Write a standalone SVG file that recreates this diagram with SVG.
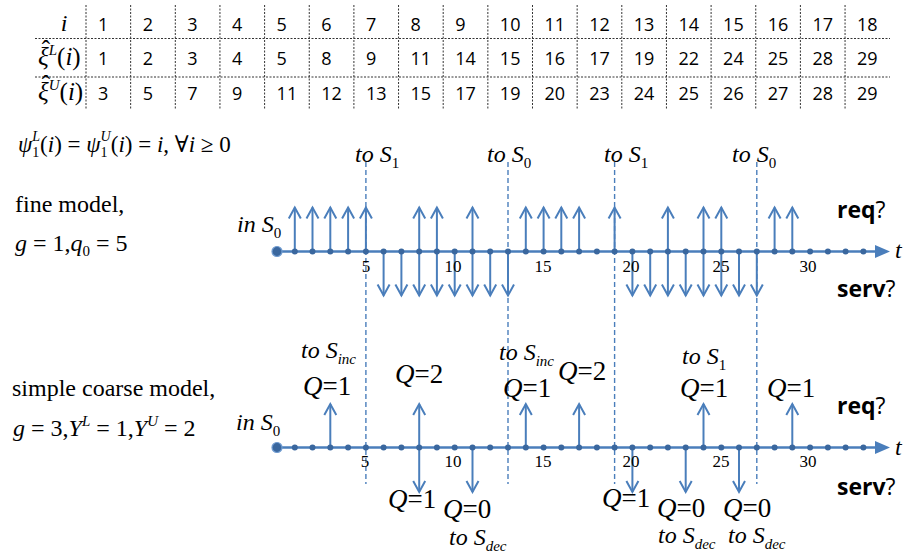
<svg xmlns="http://www.w3.org/2000/svg" width="905" height="559" viewBox="0 0 905 559">
<style>
.tm{font-family:"Liberation Serif","DejaVu Serif",serif;fill:#000}
.it{font-style:italic}
.num{font-family:"Open Sans","Noto Sans",sans-serif;font-size:18px;fill:#000}
.grid{stroke:#333;stroke-width:1;stroke-dasharray:2 1.5;fill:none}
.axis{stroke:#4a7ebb;stroke-width:2.5;fill:none}
.arr{stroke:#4a7ebb;stroke-width:2;fill:none;marker-end:url(#head)}
.dash{stroke:#4a7ebb;stroke-width:1.4;stroke-dasharray:5 3;fill:none}
.dot{fill:#3a679e}
.lab{font-family:"Open Sans","Noto Sans",sans-serif;font-size:23px;fill:#000}
.tick{font-family:"Liberation Serif",serif;font-size:17px;fill:#000;text-anchor:middle}
.q{font-size:27px}
.s{font-size:24px}
</style>
<defs>
<marker id="head" markerUnits="userSpaceOnUse" orient="auto" refX="0" refY="0" markerWidth="30" markerHeight="30" viewBox="-15 -15 30 30" overflow="visible">
<path d="M-11,-6 L0,0 L-11,6" fill="none" stroke="#4a7ebb" stroke-width="2"/>
</marker>
</defs>

<g id="table">
<g class="grid">
<line x1="35" y1="38.5" x2="890" y2="38.5"/>
<line x1="35" y1="77" x2="890" y2="77"/>
<line x1="86" y1="5" x2="86" y2="110"/>
<line x1="130.65" y1="5" x2="130.65" y2="110"/>
<line x1="175.3" y1="5" x2="175.3" y2="110"/>
<line x1="219.95" y1="5" x2="219.95" y2="110"/>
<line x1="264.6" y1="5" x2="264.6" y2="110"/>
<line x1="309.25" y1="5" x2="309.25" y2="110"/>
<line x1="353.9" y1="5" x2="353.9" y2="110"/>
<line x1="398.55" y1="5" x2="398.55" y2="110"/>
<line x1="443.2" y1="5" x2="443.2" y2="110"/>
<line x1="487.85" y1="5" x2="487.85" y2="110"/>
<line x1="532.5" y1="5" x2="532.5" y2="110"/>
<line x1="577.15" y1="5" x2="577.15" y2="110"/>
<line x1="621.8" y1="5" x2="621.8" y2="110"/>
<line x1="666.45" y1="5" x2="666.45" y2="110"/>
<line x1="711.1" y1="5" x2="711.1" y2="110"/>
<line x1="755.75" y1="5" x2="755.75" y2="110"/>
<line x1="800.4" y1="5" x2="800.4" y2="110"/>
<line x1="845.05" y1="5" x2="845.05" y2="110"/>
</g>
<text class="tm it" x="64" y="31" font-size="24" text-anchor="middle">i</text>
<text class="tm" x="33" y="65" font-size="25"><tspan dx="5" dy="-7">ˆ</tspan><tspan class="it" dx="-12" dy="7">ξ</tspan><tspan class="it" font-size="15" dy="-10">L</tspan><tspan dy="10">(</tspan><tspan class="it">i</tspan>)</text>
<text class="tm" x="33" y="100" font-size="25"><tspan dx="5" dy="-7">ˆ</tspan><tspan class="it" dx="-12" dy="7">ξ</tspan><tspan class="it" font-size="15" dy="-10">U</tspan><tspan dy="10">(</tspan><tspan class="it">i</tspan>)</text>
<g class="num">
<text y="31"><tspan x="98">1</tspan><tspan x="142.65">2</tspan><tspan x="187.3">3</tspan><tspan x="231.95">4</tspan><tspan x="276.6">5</tspan><tspan x="321.25">6</tspan><tspan x="365.9">7</tspan><tspan x="410.55">8</tspan><tspan x="455.2">9</tspan><tspan x="499.85">10</tspan><tspan x="544.5">11</tspan><tspan x="589.15">12</tspan><tspan x="633.8">13</tspan><tspan x="678.45">14</tspan><tspan x="723.1">15</tspan><tspan x="767.75">16</tspan><tspan x="812.4">17</tspan><tspan x="857.05">18</tspan></text>
<text y="65"><tspan x="98">1</tspan><tspan x="142.65">2</tspan><tspan x="187.3">3</tspan><tspan x="231.95">4</tspan><tspan x="276.6">5</tspan><tspan x="321.25">8</tspan><tspan x="365.9">9</tspan><tspan x="410.55">11</tspan><tspan x="455.2">14</tspan><tspan x="499.85">15</tspan><tspan x="544.5">16</tspan><tspan x="589.15">17</tspan><tspan x="633.8">19</tspan><tspan x="678.45">22</tspan><tspan x="723.1">24</tspan><tspan x="767.75">25</tspan><tspan x="812.4">28</tspan><tspan x="857.05">29</tspan></text>
<text y="100"><tspan x="98">3</tspan><tspan x="142.65">5</tspan><tspan x="187.3">7</tspan><tspan x="231.95">9</tspan><tspan x="276.6">11</tspan><tspan x="321.25">12</tspan><tspan x="365.9">13</tspan><tspan x="410.55">15</tspan><tspan x="455.2">17</tspan><tspan x="499.85">19</tspan><tspan x="544.5">20</tspan><tspan x="589.15">23</tspan><tspan x="633.8">24</tspan><tspan x="678.45">25</tspan><tspan x="723.1">26</tspan><tspan x="767.75">27</tspan><tspan x="812.4">28</tspan><tspan x="857.05">29</tspan></text>
</g>
</g>

<g id="left-text">
<text class="tm" x="18" y="152" font-size="23"><tspan class="it">ψ</tspan><tspan font-size="14" dy="5">1</tspan><tspan class="it" font-size="14" dx="-7" dy="-16">L</tspan><tspan dy="11">(</tspan><tspan class="it">i</tspan>) = <tspan class="it">ψ</tspan><tspan font-size="14" dy="5">1</tspan><tspan class="it" font-size="14" dx="-7" dy="-16">U</tspan><tspan dy="11">(</tspan><tspan class="it">i</tspan>) = <tspan class="it">i</tspan>, ∀<tspan class="it">i</tspan> ≥ 0</text>
<text class="tm" x="15" y="212" font-size="24">fine model,</text>
<text class="tm" x="15" y="251" font-size="24"><tspan class="it">g</tspan> = 1,<tspan class="it">q</tspan><tspan font-size="15" dy="5">0</tspan><tspan dy="-5"> = 5</tspan></text>
<text class="tm" x="12" y="396" font-size="24">simple coarse model,</text>
<text class="tm" x="13" y="436" font-size="24"><tspan class="it">g</tspan> = 3,<tspan class="it">Y</tspan><tspan class="it" font-size="15" dy="-10">L</tspan><tspan dy="10"> = 1,</tspan><tspan class="it">Y</tspan><tspan class="it" font-size="15" dy="-10">U</tspan><tspan dy="10"> = 2</tspan></text>
</g>

<g id="connectors">
<g id="dashed-lines" class="dash">
<line x1="365.9" y1="162" x2="365.9" y2="484"/>
<line x1="508" y1="162" x2="508" y2="484"/>
<line x1="614.6" y1="162" x2="614.6" y2="484"/>
<line x1="756.8" y1="162" x2="756.8" y2="484"/>
</g>
<g id="timeline1">
<line class="axis" x1="277" y1="251.5" x2="878" y2="251.5"/>
<polygon points="890,251.5 875,245 875,258" fill="#4a7ebb"/>
<g class="arr">
<line x1="294.8" y1="251.5" x2="294.8" y2="207.5"/>
<line x1="312.5" y1="251.5" x2="312.5" y2="207.5"/>
<line x1="330.3" y1="251.5" x2="330.3" y2="207.5"/>
<line x1="348.1" y1="251.5" x2="348.1" y2="207.5"/>
<line x1="365.9" y1="251.5" x2="365.9" y2="207.5"/>
<line x1="419.2" y1="251.5" x2="419.2" y2="207.5"/>
<line x1="436.9" y1="251.5" x2="436.9" y2="207.5"/>
<line x1="472.5" y1="251.5" x2="472.5" y2="207.5"/>
<line x1="525.8" y1="251.5" x2="525.8" y2="207.5"/>
<line x1="543.6" y1="251.5" x2="543.6" y2="207.5"/>
<line x1="561.3" y1="251.5" x2="561.3" y2="207.5"/>
<line x1="579.1" y1="251.5" x2="579.1" y2="207.5"/>
<line x1="614.6" y1="251.5" x2="614.6" y2="207.5"/>
<line x1="667.9" y1="251.5" x2="667.9" y2="207.5"/>
<line x1="703.5" y1="251.5" x2="703.5" y2="207.5"/>
<line x1="721.3" y1="251.5" x2="721.3" y2="207.5"/>
<line x1="774.6" y1="251.5" x2="774.6" y2="207.5"/>
<line x1="792.3" y1="251.5" x2="792.3" y2="207.5"/>
<line x1="383.6" y1="251.5" x2="383.6" y2="295.5"/>
<line x1="401.4" y1="251.5" x2="401.4" y2="295.5"/>
<line x1="419.2" y1="251.5" x2="419.2" y2="295.5"/>
<line x1="436.9" y1="251.5" x2="436.9" y2="295.5"/>
<line x1="454.7" y1="251.5" x2="454.7" y2="295.5"/>
<line x1="472.5" y1="251.5" x2="472.5" y2="295.5"/>
<line x1="490.2" y1="251.5" x2="490.2" y2="295.5"/>
<line x1="508" y1="251.5" x2="508" y2="295.5"/>
<line x1="632.4" y1="251.5" x2="632.4" y2="295.5"/>
<line x1="650.2" y1="251.5" x2="650.2" y2="295.5"/>
<line x1="667.9" y1="251.5" x2="667.9" y2="295.5"/>
<line x1="685.7" y1="251.5" x2="685.7" y2="295.5"/>
<line x1="703.5" y1="251.5" x2="703.5" y2="295.5"/>
<line x1="721.3" y1="251.5" x2="721.3" y2="295.5"/>
<line x1="739" y1="251.5" x2="739" y2="295.5"/>
<line x1="756.8" y1="251.5" x2="756.8" y2="295.5"/>
</g>
<g class="dot">
<circle cx="277" cy="251.5" r="5" stroke="#6f9bd0" stroke-width="1.2"/>
<circle cx="294.8" cy="251.5" r="3"/><circle cx="312.5" cy="251.5" r="3"/><circle cx="330.3" cy="251.5" r="3"/><circle cx="348.1" cy="251.5" r="3"/><circle cx="365.9" cy="251.5" r="3"/><circle cx="383.6" cy="251.5" r="3"/><circle cx="401.4" cy="251.5" r="3"/><circle cx="419.2" cy="251.5" r="3"/><circle cx="436.9" cy="251.5" r="3"/><circle cx="454.7" cy="251.5" r="3"/><circle cx="472.5" cy="251.5" r="3"/><circle cx="490.2" cy="251.5" r="3"/><circle cx="508" cy="251.5" r="3"/><circle cx="525.8" cy="251.5" r="3"/><circle cx="543.6" cy="251.5" r="3"/><circle cx="561.3" cy="251.5" r="3"/><circle cx="579.1" cy="251.5" r="3"/><circle cx="596.9" cy="251.5" r="3"/><circle cx="614.6" cy="251.5" r="3"/><circle cx="632.4" cy="251.5" r="3"/><circle cx="650.2" cy="251.5" r="3"/><circle cx="667.9" cy="251.5" r="3"/><circle cx="685.7" cy="251.5" r="3"/><circle cx="703.5" cy="251.5" r="3"/><circle cx="721.3" cy="251.5" r="3"/><circle cx="739" cy="251.5" r="3"/><circle cx="756.8" cy="251.5" r="3"/><circle cx="774.6" cy="251.5" r="3"/><circle cx="792.3" cy="251.5" r="3"/><circle cx="810.1" cy="251.5" r="3"/><circle cx="827.9" cy="251.5" r="3"/><circle cx="845.6" cy="251.5" r="3"/><circle cx="863.4" cy="251.5" r="3"/>
</g>
</g>
<g id="timeline2">
<line class="axis" x1="277" y1="447.5" x2="878" y2="447.5"/>
<polygon points="890,447.5 875,441 875,454" fill="#4a7ebb"/>
<g class="arr">
<line x1="330.3" y1="447.5" x2="330.3" y2="404"/>
<line x1="419.2" y1="447.5" x2="419.2" y2="404"/>
<line x1="525.8" y1="447.5" x2="525.8" y2="404"/>
<line x1="579.1" y1="447.5" x2="579.1" y2="404"/>
<line x1="703.5" y1="447.5" x2="703.5" y2="404"/>
<line x1="792.3" y1="447.5" x2="792.3" y2="404"/>
<line x1="419.2" y1="447.5" x2="419.2" y2="492"/>
<line x1="472.5" y1="447.5" x2="472.5" y2="492"/>
<line x1="632.4" y1="447.5" x2="632.4" y2="492"/>
<line x1="685.7" y1="447.5" x2="685.7" y2="492"/>
<line x1="739" y1="447.5" x2="739" y2="492"/>
</g>
<g class="dot">
<circle cx="277" cy="447.5" r="5" stroke="#6f9bd0" stroke-width="1.2"/>
<circle cx="294.8" cy="447.5" r="3"/><circle cx="312.5" cy="447.5" r="3"/><circle cx="330.3" cy="447.5" r="3"/><circle cx="348.1" cy="447.5" r="3"/><circle cx="365.9" cy="447.5" r="3"/><circle cx="383.6" cy="447.5" r="3"/><circle cx="401.4" cy="447.5" r="3"/><circle cx="419.2" cy="447.5" r="3"/><circle cx="436.9" cy="447.5" r="3"/><circle cx="454.7" cy="447.5" r="3"/><circle cx="472.5" cy="447.5" r="3"/><circle cx="490.2" cy="447.5" r="3"/><circle cx="508" cy="447.5" r="3"/><circle cx="525.8" cy="447.5" r="3"/><circle cx="543.6" cy="447.5" r="3"/><circle cx="561.3" cy="447.5" r="3"/><circle cx="579.1" cy="447.5" r="3"/><circle cx="596.9" cy="447.5" r="3"/><circle cx="614.6" cy="447.5" r="3"/><circle cx="632.4" cy="447.5" r="3"/><circle cx="650.2" cy="447.5" r="3"/><circle cx="667.9" cy="447.5" r="3"/><circle cx="685.7" cy="447.5" r="3"/><circle cx="703.5" cy="447.5" r="3"/><circle cx="721.3" cy="447.5" r="3"/><circle cx="739" cy="447.5" r="3"/><circle cx="756.8" cy="447.5" r="3"/><circle cx="774.6" cy="447.5" r="3"/><circle cx="792.3" cy="447.5" r="3"/><circle cx="810.1" cy="447.5" r="3"/><circle cx="827.9" cy="447.5" r="3"/><circle cx="845.6" cy="447.5" r="3"/><circle cx="863.4" cy="447.5" r="3"/>
</g>
</g>
</g>

<g id="timeline1-labels">
<text class="tm it s" x="237" y="232">in S<tspan font-style="normal" font-size="15" dy="6">0</tspan></text>
<text class="tm it s" x="355" y="162">to S<tspan font-style="normal" font-size="15" dy="6">1</tspan></text>
<text class="tm it s" x="487" y="162">to S<tspan font-style="normal" font-size="15" dy="6">0</tspan></text>
<text class="tm it s" x="604" y="162">to S<tspan font-style="normal" font-size="15" dy="6">1</tspan></text>
<text class="tm it s" x="732" y="162">to S<tspan font-style="normal" font-size="15" dy="6">0</tspan></text>
<text class="tm it s" x="895" y="258">t</text>
<text class="tick" x="365.9" y="272">5</text>
<text class="tick" x="453" y="272">10</text>
<text class="tick" x="543" y="272">15</text>
<text class="tick" x="631" y="272">20</text>
<text class="tick" x="721" y="272">25</text>
<text class="tick" x="808" y="272">30</text>
<text class="lab" x="837" y="218"><tspan font-weight="bold">req</tspan>?</text>
<text class="lab" x="837" y="297"><tspan font-weight="bold">serv</tspan>?</text>
</g>

<g id="timeline2-labels">
<text class="tm it s" x="236" y="430">in S<tspan font-style="normal" font-size="15" dy="6">0</tspan></text>
<text class="tm it s" x="895" y="455">t</text>
<text class="tick" x="365" y="467">5</text>
<text class="tick" x="453" y="467">10</text>
<text class="tick" x="543" y="467">15</text>
<text class="tick" x="631" y="467">20</text>
<text class="tick" x="721" y="467">25</text>
<text class="tick" x="808" y="467">30</text>
<text class="lab" x="837" y="414"><tspan font-weight="bold">req</tspan>?</text>
<text class="lab" x="837" y="495"><tspan font-weight="bold">serv</tspan>?</text>
<text class="tm it s" x="301" y="358">to S<tspan font-size="15" dy="6">inc</tspan></text>
<text class="tm q" x="303" y="395"><tspan class="it">Q</tspan>=1</text>
<text class="tm q" x="395" y="383"><tspan class="it">Q</tspan>=2</text>
<text class="tm it s" x="499" y="360">to S<tspan font-size="15" dy="6">inc</tspan></text>
<text class="tm q" x="503" y="397"><tspan class="it">Q</tspan>=1</text>
<text class="tm q" x="558" y="380"><tspan class="it">Q</tspan>=2</text>
<text class="tm it s" x="682" y="364">to S<tspan font-style="normal" font-size="15" dy="6">1</tspan></text>
<text class="tm q" x="680" y="397"><tspan class="it">Q</tspan>=1</text>
<text class="tm q" x="767" y="397"><tspan class="it">Q</tspan>=1</text>
<text class="tm q" x="388" y="508"><tspan class="it">Q</tspan>=1</text>
<text class="tm q" x="443" y="518"><tspan class="it">Q</tspan>=0</text>
<text class="tm it s" x="449" y="545">to S<tspan font-size="15" dy="6">dec</tspan></text>
<text class="tm q" x="602" y="507"><tspan class="it">Q</tspan>=1</text>
<text class="tm q" x="657" y="517"><tspan class="it">Q</tspan>=0</text>
<text class="tm it s" x="658" y="543">to S<tspan font-size="15" dy="6">dec</tspan></text>
<text class="tm q" x="723" y="517"><tspan class="it">Q</tspan>=0</text>
<text class="tm it s" x="728" y="543">to S<tspan font-size="15" dy="6">dec</tspan></text>
</g>
</svg>
